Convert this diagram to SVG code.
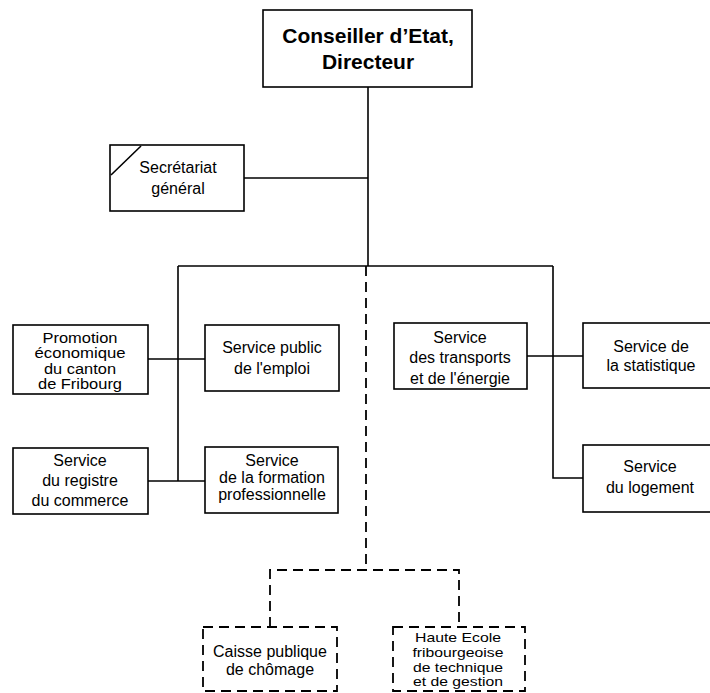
<svg xmlns="http://www.w3.org/2000/svg" width="710" height="693" viewBox="0 0 710 693">
<style>
.box{fill:#fff;stroke:#000;stroke-width:1.6}
.dbox{fill:#fff;stroke:#000;stroke-width:1.8;stroke-dasharray:10 6}
.ln{fill:none;stroke:#000;stroke-width:1.6}
.dl{fill:none;stroke:#000;stroke-width:1.8;stroke-dasharray:10 6}
text{font-family:"Liberation Sans",Arial,sans-serif;font-size:16px;text-anchor:middle;fill:#000}
.b{font-weight:bold;font-size:21px}
.t{font-size:13.8px}
.u{font-size:13.2px}
</style>
<rect width="710" height="693" fill="#fff"/>
<g id="connectors">
<line class="ln" x1="368" y1="87" x2="368" y2="266"/>
<line class="ln" x1="244" y1="178" x2="368" y2="178"/>
<line class="ln" x1="178" y1="266" x2="553" y2="266"/>
<line class="ln" x1="178" y1="266" x2="178" y2="481"/>
<line class="ln" x1="148" y1="359" x2="205" y2="359"/>
<line class="ln" x1="148" y1="481" x2="205" y2="481"/>
<polyline class="ln" points="553,266 553,478 583,478"/>
<line class="ln" x1="527" y1="356" x2="583" y2="356"/>
<line class="dl" x1="366" y1="266" x2="366" y2="570"/>
<polyline class="dl" points="270,627 270,570 459,570 459,627"/>
</g>
<g id="conseiller">
<rect class="box" x="263" y="10" width="209" height="77" stroke-width="2.2"/>
<text class="b" x="368" y="43">Conseiller d’Etat,</text>
<text class="b" x="368" y="69">Directeur</text>
</g>
<g id="secretariat">
<rect class="box" x="110" y="145" width="134" height="66"/>
<line class="ln" x1="111" y1="175" x2="141" y2="146" stroke-width="2"/>
<text x="178" y="173">Secrétariat</text>
<text x="178" y="194">général</text>
</g>
<g id="promotion">
<rect class="box" x="13" y="325" width="135" height="69"/>
<text class="t" x="80" y="342.5" textLength="75" lengthAdjust="spacingAndGlyphs">Promotion</text>
<text class="t" x="80" y="358" textLength="91" lengthAdjust="spacingAndGlyphs">économique</text>
<text class="t" x="80" y="373.5" textLength="72" lengthAdjust="spacingAndGlyphs">du canton</text>
<text class="t" x="80" y="389" textLength="84" lengthAdjust="spacingAndGlyphs">de Fribourg</text>
</g>
<g id="emploi">
<rect class="box" x="205" y="325" width="134" height="66"/>
<text x="272" y="353">Service public</text>
<text x="272" y="374">de l'emploi</text>
</g>
<g id="registre">
<rect class="box" x="13" y="448" width="135" height="66"/>
<text x="80" y="466">Service</text>
<text x="80" y="486">du registre</text>
<text x="80" y="506">du commerce</text>
</g>
<g id="formation">
<rect class="box" x="205" y="447" width="133" height="66"/>
<text x="272" y="466">Service</text>
<text x="272" y="483">de la formation</text>
<text x="272" y="500">professionnelle</text>
</g>
<g id="transports">
<rect class="box" x="394" y="323" width="133" height="66"/>
<text x="460" y="343">Service</text>
<text x="460" y="363">des transports</text>
<text x="460" y="384">et de l'énergie</text>
</g>
<g id="statistique">
<rect class="box" x="583" y="323" width="140" height="65"/>
<text x="651" y="352">Service de</text>
<text x="651" y="371">la statistique</text>
</g>
<g id="logement">
<rect class="box" x="583" y="445" width="140" height="67"/>
<text x="650" y="472">Service</text>
<text x="650" y="493">du logement</text>
</g>
<g id="caisse">
<rect class="dbox" x="203" y="627" width="134" height="64"/>
<text x="270" y="657">Caisse publique</text>
<text x="270" y="675">de chômage</text>
</g>
<g id="haute-ecole">
<rect class="dbox" x="393" y="627" width="132" height="64"/>
<text class="u" x="458" y="642" textLength="86" lengthAdjust="spacingAndGlyphs">Haute Ecole</text>
<text class="u" x="458" y="657" textLength="91" lengthAdjust="spacingAndGlyphs">fribourgeoise</text>
<text class="u" x="458" y="671.5" textLength="90" lengthAdjust="spacingAndGlyphs">de technique</text>
<text class="u" x="458" y="686" textLength="90" lengthAdjust="spacingAndGlyphs">et de gestion</text>
</g>
</svg>
